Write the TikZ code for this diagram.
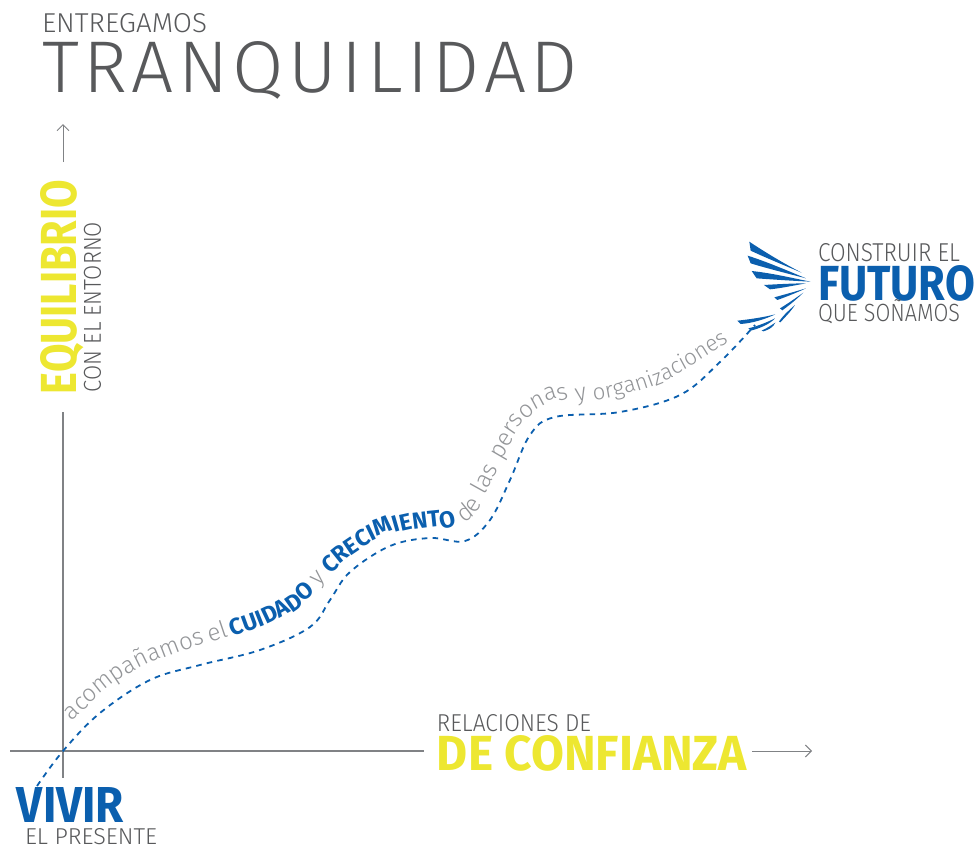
\documentclass[tikz,border=0pt]{standalone}
\usepackage{fontspec}
\usepackage{graphicx}
\usetikzlibrary{arrows.meta}
\setmainfont{Fira Sans Light}
\newfontfamily\lightf{Fira Sans Light}
\newfontfamily\boldf{Fira Sans}[BoldFont={Fira Sans Bold}]
\definecolor{dgray}{HTML}{58595B}
\definecolor{axisgray}{HTML}{808285}
\definecolor{tgray}{HTML}{939598}
\definecolor{wingblue}{HTML}{0B5FAE}
\definecolor{lemon}{HTML}{EDE731}
\newlength\uu
\setlength\uu{0.25pt}
\newcommand{\fit}[3]{\resizebox{#1\uu}{#2\uu}{#3}}
\tikzset{
 lbl/.style={anchor=base west,inner sep=0pt,outer sep=0pt},
 axisline/.style={draw=axisgray,line width=0.325pt},
 axisarrow/.style={draw=axisgray,line width=0.25pt,-{Straight Barb[length=1.5pt,width=3pt,line width=0.25pt]}},
 feather/.style={fill=wingblue,draw=none},
 pathchar/.style={anchor=base,inner sep=0pt,outer sep=0pt}
}
% letters set one by one along a baseline given by points and tangent angles
\def\Xs{{72,110,150,200,260,300,320,345,385,430,462,478,495,520,550,600,660,700,735}}
\def\Ys{{722,685,662,645,628,608,585,560,533,527,528,510,475,425,400,400,385,360,338}}
\def\As{{44,37.6,24,17.3,20.4,35.8,46.8,38.9,21.2,3.6,19.3,58,63.8,53.6,17.5,7.8,21.9,32,32}}
\newcount\segi
\newcount\chno
\newbox\tpbox
\gdef\curS{0}
\def\tpspc{1}
\def\tpfind{%
 \pgfmathsetmacro\tpXa{\Xs[\the\segi]}%
 \pgfmathsetmacro\tpYa{\Ys[\the\segi]}%
 \pgfmathsetmacro\tpAa{\As[\the\segi]}%
 \pgfmathtruncatemacro\tpj{\the\segi+1}%
 \pgfmathsetmacro\tpXb{\Xs[\tpj]}%
 \pgfmathsetmacro\tpYb{\Ys[\tpj]}%
 \pgfmathsetmacro\tpAb{\As[\tpj]}%
 \pgfmathsetmacro\tpL{veclen(\tpXb-\tpXa,\tpYb-\tpYa)}%
 \pgfmathtruncatemacro\tpcont{((\tpsm>\tpL)&&(\the\segi<17))?1:0}%
 \ifnum\tpcont=1
  \pgfmathsetmacro\tpsm{\tpsm-\tpL}%
  \global\advance\segi by 1
  \let\tpnx\tpfind
 \else
  \let\tpnx\relax
 \fi
 \tpnx}
\def\tpplace#1{%
 \setbox\tpbox\hbox{\pgfinterruptpicture\curfmt #1\endpgfinterruptpicture}%
 \edef\tpraw{\the\wd\tpbox}%
 \ifdim\wd\tpbox<0.1pt \def\tpraw{2.9pt}\fi
 \pgfmathsetmacro\tpw{\tpraw*4*\tpspc}%
 \pgfmathsetmacro\tpsm{\curS+\tpw/2}%
 \tpfind
 \pgfmathsetmacro\tpf{\tpsm/\tpL}%
 \pgfmathsetmacro\tpx{\tpXa+\tpf*(\tpXb-\tpXa)}%
 \pgfmathsetmacro\tpy{\tpYa+\tpf*(\tpYb-\tpYa)}%
 \pgfmathsetmacro\tpa{\tpAa+\tpf*(\tpAb-\tpAa)}%
 \global\advance\chno by 1
 \pgfmathsetmacro\tpnew{\tpsm+\tpw/2}%
 \xdef\curS{\tpnew}%
 \node[pathchar,rotate=\tpa,text=\curcol] (tc\the\chno) at (\tpx,\tpy) {\curfmt #1};}
\def\tploop#1{\ifx#1\relax\let\tpnn\relax\else\tpplace{#1}\let\tpnn\tploop\fi\tpnn}
\def\tpword#1{\tploop#1\relax}
\def\tpgap#1{\pgfmathsetmacro\tpnew{\curS+#1}\xdef\curS{\tpnew}}
\def\greyrun{\def\curfmt{\lightf\fontsize{6}{6}\selectfont}\def\curcol{tgray}}
\def\tailrun{\def\curfmt{\lightf\fontsize{5.6}{6}\selectfont}\def\curcol{tgray}}
\def\bluerun{\def\curfmt{\boldf\bfseries\fontsize{5.8}{6}\selectfont}\def\curcol{wingblue}}
\begin{document}
\begin{tikzpicture}[x=0.25pt,y=-0.25pt]
\useasboundingbox (0,0) rectangle (977,846);
% titles
\node[lbl,text=dgray] (t1) at (42,33) {\fit{165}{19}{\lightf ENTREGAMOS}};
\node[lbl,text=dgray] (t2) at (42,93) {\fit{536}{51}{\lightf T\kern0.6pt R\kern0.6pt A\kern0.6pt N\kern0.6pt Q\kern0.6pt U\kern0.6pt I\kern0.6pt L\kern0.6pt I\kern0.6pt D\kern0.6pt A\kern0.6pt D}};
% y axis labels
\node[lbl,rotate=90,text=lemon] (eq) at (77,394) {\fit{214}{36}{\boldf\bfseries EQUILIBRIO}};
\node[lbl,rotate=90,text=dgray] (con) at (101,392) {\fit{170}{17}{\lightf CON EL ENTORNO}};
% x axis labels
\node[lbl,text=dgray] (rel) at (437,731) {\fit{154}{17}{\lightf RELACIONES DE}};
\node[lbl,text=lemon] (conf) at (437,771) {\fit{310}{35}{\boldf\bfseries DE CONFIANZA}};
% origin labels
\node[lbl,text=wingblue] (viv) at (17,822) {\fit{107}{35}{\boldf\bfseries VIVIR}};
\node[lbl,text=dgray] (pres) at (25,845) {\fit{132}{16}{\lightf EL PRESENTE}};
% destination labels
\node[lbl,text=dgray] (con2) at (818,261) {\fit{142}{18}{\lightf CONSTRUIR EL}};
\node[lbl,text=wingblue] (fut) at (818,300) {\fit{157}{35}{\boldf\bfseries FUTURO}};
\node[lbl,text=dgray] (que) at (818,322) {\fit{142}{22}{\lightf QUE SOÑAMOS}};
% axes
\coordinate (ytop) at (63,412);
\coordinate (ybot) at (63,778);
\coordinate (xl) at (10,751);
\coordinate (xr) at (424,751);
\coordinate (ya1) at (63,162);
\coordinate (ya2) at (63,124);
\coordinate (xa1) at (752,751);
\coordinate (xa2) at (812,751);
\draw[axisline] (ytop) -- (ybot);
\draw[axisline] (xl) -- (xr);
\draw[axisarrow] (ya1) -- (ya2);
\draw[axisarrow] (xa1) -- (xa2);
% dashed route
\draw[draw=wingblue,line width=0.45pt,dash pattern=on 1.4pt off 1.3pt]
 plot[smooth,tension=0.6] coordinates {(37,786) (63,751) (100,713) (150,680) (200,665) (260,650) (310,627) (330,600) (350,572) (390,546) (430,538) (465,541) (490,520) (510,480) (530,435) (555,417) (620,412) (680,395) (720,362) (755,325)};
% text along the route
\greyrun
\tpword{acompañamos}\tpgap{5}\tpword{el}\tpgap{4}
\bluerun
\tpword{CUIDADO}\tpgap{6}
\greyrun
\tpword{y}\tpgap{6}
\bluerun
\tpword{CRECIMIENTO}\tpgap{10}
\greyrun
\tpword{de}\tpgap{8}\tpword{las}\tpgap{8}\tpword{personas}\tpgap{7}\tpword{y}\tpgap{6}
\tailrun
\tpword{organizaciones}
% wing
\begin{scope}[shift={(720,220)},x=0.08333pt,y=-0.08333pt]
\fill[feather] (88,65) .. controls (140,100) and (200,135) .. (245,158) .. controls (190,135) and (130,110) .. (92,92) -- cycle;
\fill[feather] (83,107) .. controls (140,125) and (210,155) .. (258,175) .. controls (200,160) and (130,142) .. (92,130) -- cycle;
\fill[feather] (95,153) .. controls (160,160) and (220,175) .. (272,185) .. controls (210,182) and (150,178) .. (110,175) -- cycle;
\fill[feather] (132,195) .. controls (180,192) and (230,190) .. (258,190) .. controls (220,197) and (180,205) .. (150,208) -- cycle;
\fill[feather] (163,232) .. controls (200,222) and (235,212) .. (258,205) .. controls (230,218) and (195,232) .. (172,240) -- cycle;
\fill[feather] (180,265) .. controls (205,250) and (230,232) .. (250,218) .. controls (230,238) and (205,258) .. (187,271) -- cycle;
\fill[feather] (177,305) .. controls (190,285) and (210,268) .. (225,255) .. controls (212,275) and (195,292) .. (181,307) -- cycle;
\fill[feather] (52,302) .. controls (90,298) and (130,292) .. (166,283) .. controls (135,298) and (95,310) .. (62,312) -- cycle;
\fill[feather] (85,325) .. controls (115,318) and (145,305) .. (165,295) .. controls (150,312) and (120,325) .. (92,332) -- cycle;
\fill[feather] (125,332) .. controls (140,325) and (155,315) .. (166,308) .. controls (160,322) and (145,330) .. (130,334) -- cycle;
\end{scope}
\end{tikzpicture}
\end{document}
